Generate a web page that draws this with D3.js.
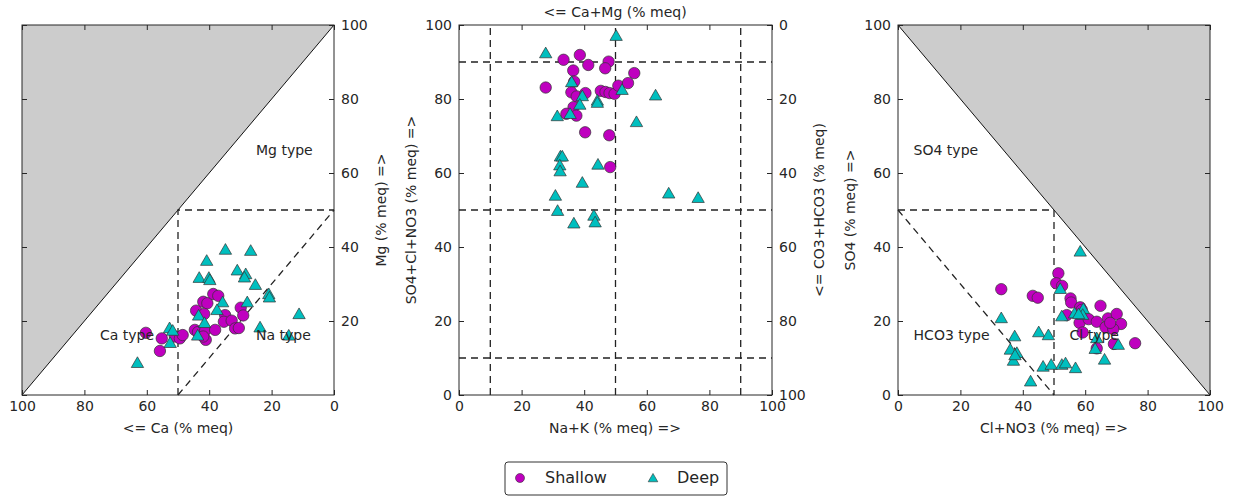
<!DOCTYPE html>
<html>
<head>
<meta charset="utf-8">
<script src="https://d3js.org/d3.v7.min.js"></script>
<style>
  body { margin: 0; background: #fff; }
  text { font-family: "DejaVu Sans", sans-serif; fill: #262626; }
</style>
</head>
<body>
<script>
// ---- data (percent meq) ----
// cation triangle: [Ca, Mg]
var shallowCaMg = [[60.3,16.8],[55.2,15.3],[55.8,11.9],[51.0,15.8],[49.4,15.3],[48.5,16.2],[44.2,22.8],
  [41.9,25.2],[40.6,24.8],[41.6,21.9],[38.7,27.3],[37.1,26.8],[44.6,17.6],[43.6,17.0],[41.3,17.4],
  [38.1,17.6],[41.1,14.9],[41.9,15.8],[34.9,21.6],[35.3,19.8],[32.8,20.1],[31.7,18.0],[30.5,18.1],
  [29.9,23.6],[29.1,21.5]];
var deepCaMg = [[43.2,31.4],[40.8,36.0],[40.1,31.4],[39.8,30.8],[34.8,39.0],[26.7,38.7],[31.0,33.4],
  [28.3,32.4],[28.7,31.5],[25.2,29.5],[20.9,27.0],[20.7,26.1],[35.7,24.8],[27.8,24.8],[37.5,22.7],
  [43.4,21.2],[41.5,19.2],[11.2,21.6],[23.7,18.0],[14.5,15.8],[52.7,17.8],[51.7,17.1],[52.5,13.8],
  [43.7,15.8],[63.0,8.4]];
// diamond: [Na+K, SO4+Cl+NO3]
var shallowMid = [[27.7,83.1],[33.4,90.6],[38.6,91.9],[41.3,89.2],[47.8,90.1],[46.7,88.3],[56.0,87.0],
  [36.5,87.7],[36.8,84.7],[35.9,81.8],[37.6,80.7],[40.4,81.6],[45.3,82.2],[46.8,81.9],[48.1,81.6],
  [49.7,81.4],[50.9,83.6],[54.0,84.3],[36.6,77.8],[34.3,76.0],[37.5,75.5],[40.3,71.0],[48.0,70.2],
  [48.3,61.6]];
var deepMid = [[50.2,96.8],[27.7,92.1],[36.0,84.3],[52.1,82.2],[62.8,80.7],[39.4,80.5],[38.6,78.2],
  [44.2,79.3],[44.2,78.7],[31.4,75.1],[35.5,75.7],[56.7,73.5],[32.4,64.2],[33.0,64.2],[32.2,61.8],
  [32.3,60.2],[44.4,62.0],[39.4,57.1],[30.8,53.6],[67.0,54.2],[76.4,53.0],[31.5,49.5],[43.1,48.2],
  [43.5,46.4],[36.7,46.1]];
// anion triangle: [Cl+NO3, SO4]
var shallowAn = [[33.1,28.6],[43.2,26.8],[44.8,26.3],[51.4,32.9],[50.7,30.2],[52.6,29.5],[55.3,26.1],
  [55.5,25.0],[58.4,23.7],[58.9,23.0],[64.9,24.1],[54.1,21.6],[58.2,19.5],[61.1,20.5],[63.7,19.8],
  [67.3,20.7],[70.1,21.9],[71.5,19.2],[66.5,18.3],[69.0,17.8],[59.2,16.9],[63.7,12.6],[69.2,13.8],
  [76.0,14.0],[68.0,19.5]];
var deepAn = [[58.4,38.5],[52.0,28.4],[33.1,20.5],[52.5,21.0],[56.6,21.8],[59.4,23.0],[59.2,21.4],
  [57.9,21.6],[37.4,15.6],[45.1,16.7],[48.2,15.9],[63.2,12.2],[63.7,15.1],[70.6,13.3],[36.0,12.0],
  [38.1,11.1],[37.0,9.0],[66.2,9.3],[46.5,7.4],[49.1,7.9],[52.5,7.9],[53.7,8.3],[56.9,7.0],
  [42.5,3.4],[37.5,10.5]];

var ticks = [0, 20, 40, 60, 80, 100];
var seriesNames = ["Shallow", "Deep"];
var shallowColor = "#bf00bf", deepColor = "#00bfbf";

var W = 1233, H = 496;
var yTop = 25, yBot = 395;
var fs = 14;

var svg = d3.select("body").append("svg")
  .attr("width", W).attr("height", H);

var tri = d3.symbol().type(d3.symbolTriangle).size(66);

function frame(g, x0, x1) {
  g.append("rect").attr("x", x0).attr("y", yTop).attr("width", x1 - x0).attr("height", yBot - yTop)
    .attr("fill", "none").attr("stroke", "#262626").attr("stroke-width", 1);
}

function dashed(g, pts) {
  g.append("path").attr("d", d3.line()(pts))
    .attr("fill", "none").attr("stroke", "#222").attr("stroke-width", 1.3)
    .attr("stroke-dasharray", "7,5");
}

function styleAxis(sel) {
  sel.select(".domain").remove();
  sel.selectAll(".tick line").attr("stroke", "#262626");
  sel.selectAll(".tick text").attr("font-size", fs).attr("fill", "#262626")
    .style("font-family", "DejaVu Sans");
}

function points(g, x, y, shallow, deep) {
  g.selectAll(".s").data(shallow).enter().append("circle")
    .attr("cx", function(d) { return x(d[0]); })
    .attr("cy", function(d) { return y(d[1]); })
    .attr("r", 5.7)
    .attr("fill", shallowColor).attr("stroke", "#333").attr("stroke-width", 0.7);
  g.selectAll(".d").data(deep).enter().append("path")
    .attr("d", tri)
    .attr("transform", function(d) { return "translate(" + x(d[0]) + "," + y(d[1]) + ")"; })
    .attr("fill", deepColor).attr("stroke", "#333").attr("stroke-width", 0.7);
}

function label(g, txt, x, y, rot) {
  var t = g.append("text").attr("font-size", fs).attr("text-anchor", "middle")
    .attr("dominant-baseline", "middle").text(txt);
  if (rot) t.attr("transform", "translate(" + x + "," + y + ") rotate(-90)");
  else t.attr("x", x).attr("y", y);
}

function typeLabels(g, x, y, list) {
  list.forEach(function(l) {
    g.append("text").attr("x", x(l[1])).attr("y", y(l[2])).attr("dominant-baseline", "middle")
      .attr("font-size", fs).text(l[0]);
  });
}

// ---------- left: cations ----------
var xL = d3.scaleLinear().domain([100, 0]).range([22, 334]);
var yL = d3.scaleLinear().domain([0, 100]).range([yBot, yTop]);
var gL = svg.append("g");
gL.append("path").attr("d", d3.line()([[xL(100), yL(0)], [xL(100), yL(100)], [xL(0), yL(100)]]) + "Z")
  .attr("fill", "#cccccc");
gL.append("line").attr("x1", xL(100)).attr("y1", yL(0)).attr("x2", xL(0)).attr("y2", yL(100))
  .attr("stroke", "#111").attr("stroke-width", 1);
dashed(gL, [[xL(50), yL(0)], [xL(50), yL(50)], [xL(0), yL(50)]]);
dashed(gL, [[xL(50), yL(0)], [xL(0), yL(50)]]);
gL.append("g").attr("transform", "translate(0," + yBot + ")")
  .call(d3.axisBottom(xL).tickValues(ticks).tickSize(-5).tickPadding(6)).call(styleAxis);
gL.append("g").attr("transform", "translate(0," + yTop + ")")
  .call(d3.axisTop(xL).tickValues(ticks).tickSize(-5).tickFormat("")).call(styleAxis);
gL.append("g").attr("transform", "translate(22,0)")
  .call(d3.axisLeft(yL).tickValues(ticks).tickSize(-5).tickFormat("")).call(styleAxis);
gL.append("g").attr("transform", "translate(334,0)")
  .call(d3.axisRight(yL).tickValues(ticks.slice(1)).tickSize(-5).tickPadding(7)).call(styleAxis);
points(gL, xL, yL, shallowCaMg, deepCaMg);
typeLabels(gL, xL, yL, [["Mg type", 25, 66], ["Ca type", 75, 16], ["Na type", 25, 16]]);
frame(gL, 22, 334);
label(gL, "<= Ca (% meq)", 178, 429);
label(gL, "Mg (% meq) =>", 382, 210, true);

// ---------- middle: diamond ----------
var xM = d3.scaleLinear().domain([0, 100]).range([459, 772]);
var yM = d3.scaleLinear().domain([0, 100]).range([yBot, yTop]);
var yM2 = d3.scaleLinear().domain([0, 100]).range([yTop, yBot]);
var gM = svg.append("g");
[10, 50, 90].forEach(function(v) {
  dashed(gM, [[xM(v), yM(0)], [xM(v), yM(100)]]);
  dashed(gM, [[xM(0), yM(v)], [xM(100), yM(v)]]);
});
gM.append("g").attr("transform", "translate(0," + yBot + ")")
  .call(d3.axisBottom(xM).tickValues(ticks).tickSize(-5).tickPadding(6)).call(styleAxis);
gM.append("g").attr("transform", "translate(0," + yTop + ")")
  .call(d3.axisTop(xM).tickValues(ticks).tickSize(-5).tickFormat("")).call(styleAxis);
gM.append("g").attr("transform", "translate(459,0)")
  .call(d3.axisLeft(yM).tickValues(ticks).tickSize(-5).tickPadding(7)).call(styleAxis);
gM.append("g").attr("transform", "translate(772,0)")
  .call(d3.axisRight(yM2).tickValues(ticks).tickSize(-5).tickPadding(7)).call(styleAxis);
points(gM, xM, yM, shallowMid, deepMid);
frame(gM, 459, 772);
label(gM, "Na+K (% meq) =>", 615, 429);
label(gM, "<= Ca+Mg (% meq)", 615, 13);
label(gM, "SO4+Cl+NO3 (% meq) =>", 412, 210, true);
label(gM, "<= CO3+HCO3 (% meq)", 820, 210, true);

// ---------- right: anions ----------
var xR = d3.scaleLinear().domain([0, 100]).range([898, 1210]);
var yR = d3.scaleLinear().domain([0, 100]).range([yBot, yTop]);
var gR = svg.append("g");
gR.append("path").attr("d", d3.line()([[xR(0), yR(100)], [xR(100), yR(100)], [xR(100), yR(0)]]) + "Z")
  .attr("fill", "#cccccc");
gR.append("line").attr("x1", xR(0)).attr("y1", yR(100)).attr("x2", xR(100)).attr("y2", yR(0))
  .attr("stroke", "#111").attr("stroke-width", 1);
dashed(gR, [[xR(0), yR(50)], [xR(50), yR(50)], [xR(50), yR(0)]]);
dashed(gR, [[xR(0), yR(50)], [xR(50), yR(0)]]);
gR.append("g").attr("transform", "translate(0," + yBot + ")")
  .call(d3.axisBottom(xR).tickValues(ticks).tickSize(-5).tickPadding(6)).call(styleAxis);
gR.append("g").attr("transform", "translate(0," + yTop + ")")
  .call(d3.axisTop(xR).tickValues(ticks).tickSize(-5).tickFormat("")).call(styleAxis);
gR.append("g").attr("transform", "translate(898,0)")
  .call(d3.axisLeft(yR).tickValues(ticks).tickSize(-5).tickPadding(7)).call(styleAxis);
gR.append("g").attr("transform", "translate(1210,0)")
  .call(d3.axisRight(yR).tickValues(ticks).tickSize(-5).tickFormat("")).call(styleAxis);
points(gR, xR, yR, shallowAn, deepAn);
typeLabels(gR, xR, yR, [["SO4 type", 5, 66], ["HCO3 type", 5, 16], ["Cl type", 55, 16]]);
frame(gR, 898, 1210);
label(gR, "Cl+NO3 (% meq) =>", 1054, 429);
label(gR, "SO4 (% meq) =>", 851, 210, true);

// ---------- legend ----------
var lg = svg.append("g");
lg.append("rect").attr("x", 505).attr("y", 462).attr("width", 222).attr("height", 33).attr("rx", 3)
  .attr("fill", "#fff").attr("stroke", "#333").attr("stroke-width", 1);
lg.append("circle").attr("cx", 520).attr("cy", 478).attr("r", 4.5)
  .attr("fill", shallowColor).attr("stroke", "#333").attr("stroke-width", 0.6);
lg.append("path").attr("d", d3.symbol().type(d3.symbolTriangle).size(40))
  .attr("transform", "translate(653,479)")
  .attr("fill", deepColor).attr("stroke", "#333").attr("stroke-width", 0.6);
lg.append("text").attr("x", 545).attr("y", 478).attr("dominant-baseline", "middle")
  .attr("font-size", 16).text(seriesNames[0]);
lg.append("text").attr("x", 677).attr("y", 478).attr("dominant-baseline", "middle")
  .attr("font-size", 16).text(seriesNames[1]);
</script>
</body>
</html>
